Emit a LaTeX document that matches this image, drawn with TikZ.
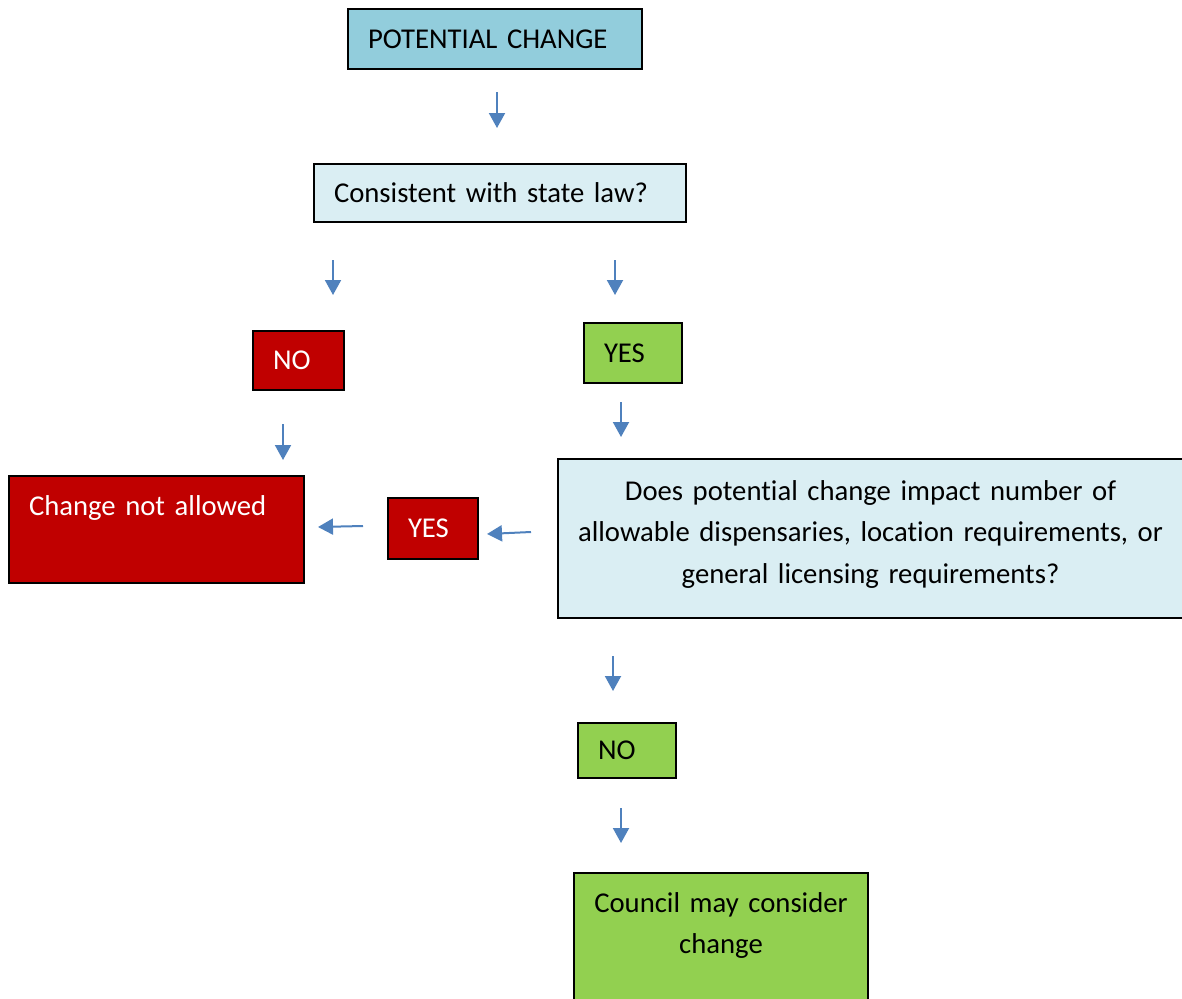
\documentclass[tikz,border=0pt]{standalone}
\usepackage{fontspec}
\setmainfont{Carlito}[Ligatures=NoCommon,WordSpace=0.85]
\usetikzlibrary{arrows.meta}
\definecolor{hdrblue}{RGB}{146,205,220}
\definecolor{qblue}{RGB}{218,238,243}
\definecolor{stopred}{RGB}{192,0,0}
\definecolor{gogreen}{RGB}{146,208,80}
\definecolor{arrblue}{RGB}{79,129,189}
\begin{document}
\begin{tikzpicture}[x=1pt,y=-1pt,
	box/.style={draw=black,line width=2pt,anchor=north west,inner xsep=20pt,inner ysep=0pt,align=left,font=\fontsize{28.7}{41.5}\selectfont},
	flow/.style={-{Triangle[length=15pt,width=16pt]},arrblue,line width=2pt}]
	\useasboundingbox (0,0) rectangle (1182,998);
	% Start
	\node[box,fill=hdrblue,text width=254pt,minimum height=60pt] (pot) at (347,8) {POTENTIAL CHANGE};
	% Forste sporsmal
	\node[box,fill=qblue,text width=332pt,minimum height=58pt] (law) at (313,163) {Consistent with state law?};
	% Svar
	\node[box,fill=stopred,text=white,text width=51pt,minimum height=59pt] (nolaw) at (252,330) {NO};
	\node[box,fill=gogreen,text width=58pt,minimum height=60pt] (yeslaw) at (583,322) {YES};
	% Avslag
	\node[box,fill=stopred,text=white,text width=255pt,text height=39pt,text depth=68pt] (denied) at (8,475) {Change not allowed};
	\node[box,fill=stopred,text=white,text width=50pt,minimum height=61pt] (yesimp) at (387,497) {YES};
	% Andre sporsmal
	\node[box,fill=qblue,inner xsep=10pt,text width=605pt,align=center,text height=41pt,text depth=118pt] (impact) at (557,458)
		{Does potential change impact number of\\allowable dispensaries, location requirements, or\\general licensing requirements?};
	\node[box,fill=gogreen,text width=58pt,minimum height=55pt] (noimp) at (577,722) {NO};
	% Godkjent
	\node[box,fill=gogreen,inner xsep=10pt,text width=274pt,align=center,text height=39pt,text depth=100pt] (council) at (573,872)
		{Council may consider\\change};
	% Piler
	\coordinate (p1) at (497,92);  \coordinate (q1) at (497,128);
	\coordinate (p2) at (333,260); \coordinate (q2) at (333,295);
	\coordinate (p3) at (615,260); \coordinate (q3) at (615,295);
	\coordinate (p4) at (283,424); \coordinate (q4) at (283,460);
	\coordinate (p5) at (621,402); \coordinate (q5) at (621,437);
	\coordinate (p6) at (363,526); \coordinate (q6) at (318,527);
	\coordinate (p7) at (531,532); \coordinate (q7) at (487,534);
	\coordinate (p8) at (613,656); \coordinate (q8) at (613,691);
	\coordinate (p9) at (621,808); \coordinate (q9) at (621,843);
	\foreach \i in {1,...,9}
		\draw[flow] (p\i) -- (q\i);
\end{tikzpicture}
\end{document}
